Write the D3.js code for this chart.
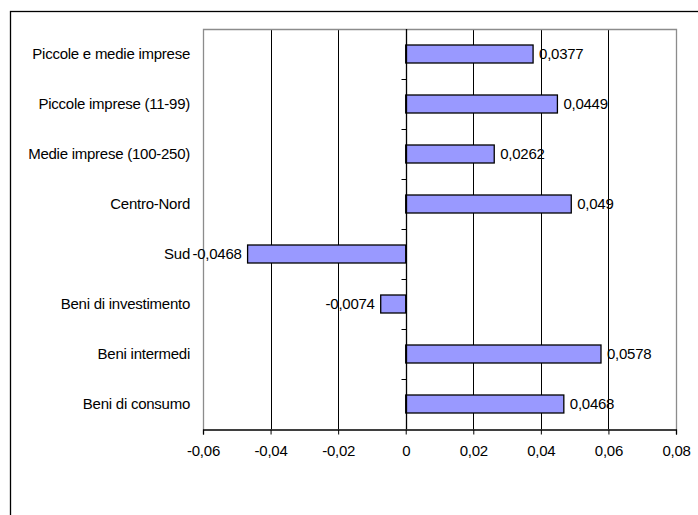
<!DOCTYPE html>
<html><head><meta charset="utf-8">
<script src="https://cdn.jsdelivr.net/npm/d3@7/dist/d3.min.js"></script>
<style>
html,body{margin:0;padding:0;background:#fff;}
svg{display:block;}
text{font-family:"Liberation Sans",Arial,sans-serif;}
</style></head>
<body>
<script>
const categories = ["Piccole e medie imprese","Piccole imprese (11-99)","Medie imprese (100-250)","Centro-Nord","Sud","Beni di investimento","Beni intermedi","Beni di consumo"];
const values = [0.0377,0.0449,0.0262,0.049,-0.0468,-0.0074,0.0578,0.0468];
const valueLabels = ["0,0377","0,0449","0,0262","0,049","-0,0468","-0,0074","0,0578","0,0468"];
const xTicks = [-0.06,-0.04,-0.02,0,0.02,0.04,0.06,0.08];
const xTickLabels = ["-0,06","-0,04","-0,02","0","0,02","0,04","0,06","0,08"];

const W=698,H=515;
const FS=15, LS="-0.25px";
const svg=d3.select("body").append("svg").attr("width",W).attr("height",H);
const plot={left:203,right:676,top:29,bottom:429};
const x=d3.scaleLinear().domain([-0.06,0.08]).range([plot.left,plot.right]);
const y=d3.scaleBand().domain(categories).range([plot.top,plot.bottom]).paddingInner(0.64).paddingOuter(0.32);
const yb=d3.scaleBand().domain(categories).range([plot.top,plot.bottom]);

// outer frame
svg.append("rect").attr("x",10.5).attr("y",11.5).attr("width",W+20).attr("height",H+20)
  .attr("fill","none").attr("stroke","#000").attr("stroke-width",1.3);

// gridlines
svg.append("g").selectAll("line").data(xTicks.filter(d=>d!==-0.06&&d!==0.08&&d!==0)).join("line")
  .attr("x1",d=>Math.round(x(d))+0.5).attr("x2",d=>Math.round(x(d))+0.5)
  .attr("y1",plot.top).attr("y2",plot.bottom).attr("stroke","#000").attr("stroke-width",1);

// plot border (gray)
svg.append("path").attr("d",`M${plot.left+0.5},${plot.bottom}V${plot.top+0.5}H${plot.right+0.5}V${plot.bottom}`)
  .attr("fill","none").attr("stroke","#8c8c8c").attr("stroke-width",1.3);

// bars
svg.append("g").selectAll("rect").data(values).join("rect")
  .attr("x",(d)=>x(Math.min(0,d)))
  .attr("y",(d,i)=>y(categories[i]))
  .attr("width",d=>Math.abs(x(d)-x(0)))
  .attr("height",y.bandwidth())
  .attr("fill","#9999ff").attr("stroke","#000").attr("stroke-width",1.3);

// x axis
const xAxis=d3.axisBottom(x).tickValues(xTicks).tickFormat((d,i)=>xTickLabels[i]).tickSize(5).tickPadding(11);
const gx=svg.append("g").attr("transform",`translate(0,${plot.bottom+0.5})`).call(xAxis);
gx.select(".domain").attr("stroke","#000").attr("stroke-width",1.3);
gx.selectAll(".tick line").attr("stroke","#000");
gx.selectAll("text").attr("font-size",FS).attr("letter-spacing",LS).attr("fill","#000").attr("font-family","Liberation Sans, Arial, sans-serif");

// zero axis with category boundary ticks
const zx=Math.round(x(0))+0.5;
svg.append("line").attr("x1",zx).attr("x2",zx).attr("y1",plot.top).attr("y2",plot.bottom).attr("stroke","#000").attr("stroke-width",1.3);
svg.append("g").selectAll("line").data(categories.slice(1)).join("line")
  .attr("x1",zx-5).attr("x2",zx).attr("y1",d=>Math.round(yb(d))+0.5).attr("y2",d=>Math.round(yb(d))+0.5)
  .attr("stroke","#000");

// category labels
svg.append("g").selectAll("text").data(categories).join("text")
  .attr("x",190).attr("y",d=>yb(d)+yb.bandwidth()/2).attr("dy","0.35em")
  .attr("text-anchor","end").attr("font-size",FS).attr("letter-spacing",LS).text(d=>d);

// value labels
svg.append("g").selectAll("text").data(values).join("text")
  .attr("x",d=>d>=0?x(d)+6:x(d)-6)
  .attr("y",(d,i)=>yb(categories[i])+yb.bandwidth()/2).attr("dy","0.35em")
  .attr("text-anchor",d=>d>=0?"start":"end").attr("font-size",FS).attr("letter-spacing",LS)
  .text((d,i)=>valueLabels[i]);
</script>
</body></html>
